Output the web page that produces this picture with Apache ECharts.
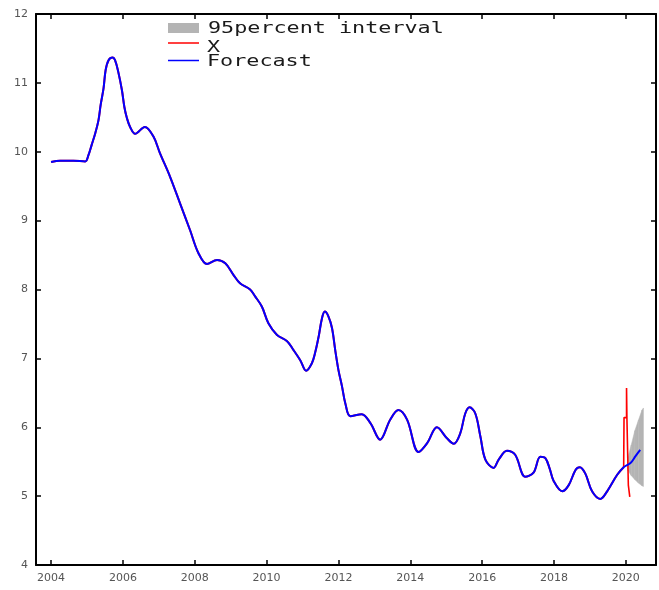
<!DOCTYPE html>
<html>
<head>
<meta charset="utf-8">
<script src="https://cdn.jsdelivr.net/npm/echarts@6/dist/echarts.min.js"></script>
<style>
html, body { margin: 0; padding: 0; background: #fff; }
#main { width: 659px; height: 590px; }
</style>
</head>
<body>
<div id="main"></div>
<script>
var years = [2004.00, 2004.25, 2004.62, 2004.95, 2005.04, 2005.13, 2005.23, 2005.32, 2005.38, 2005.46,
  2005.52, 2005.60, 2005.71, 2005.78, 2005.87, 2005.97, 2006.04, 2006.11, 2006.20, 2006.34,
  2006.61, 2006.85, 2007.03, 2007.31, 2007.59, 2007.87, 2008.10, 2008.34, 2008.62, 2008.85,
  2009.08, 2009.26, 2009.54, 2009.68, 2009.87, 2010.05, 2010.29, 2010.57, 2010.75, 2010.94,
  2011.10, 2011.26, 2011.35, 2011.45, 2011.54, 2011.62, 2011.72, 2011.82, 2011.91, 2012.00,
  2012.10, 2012.19, 2012.33, 2012.65, 2012.89, 2013.16, 2013.44, 2013.67, 2013.91, 2014.23,
  2014.47, 2014.74, 2015.02, 2015.21, 2015.39, 2015.53, 2015.65, 2015.81, 2015.95, 2016.09,
  2016.32, 2016.46, 2016.69, 2016.92, 2017.20, 2017.43, 2017.62, 2017.76, 2017.88, 2017.99,
  2018.23, 2018.41, 2018.60, 2018.72, 2018.87, 2019.06, 2019.29, 2019.48, 2019.76, 2019.94];
var xValues = [9.85, 9.87, 9.87, 9.86, 9.95, 10.10, 10.27, 10.46, 10.68, 10.92,
  11.19, 11.33, 11.37, 11.33, 11.16, 10.90, 10.65, 10.49, 10.36, 10.26,
  10.36, 10.22, 9.98, 9.64, 9.25, 8.86, 8.53, 8.37, 8.43, 8.38,
  8.21, 8.09, 8.00, 7.90, 7.75, 7.51, 7.34, 7.25, 7.12, 6.97,
  6.82, 6.93, 7.08, 7.32, 7.58, 7.68, 7.61, 7.44, 7.12, 6.83,
  6.59, 6.35, 6.16, 6.19, 6.06, 5.82, 6.11, 6.25, 6.11, 5.64,
  5.77, 6.00, 5.84, 5.76, 5.91, 6.20, 6.29, 6.20, 5.87, 5.53,
  5.41, 5.53, 5.66, 5.60, 5.28, 5.34, 5.57, 5.55, 5.40, 5.22,
  5.07, 5.16, 5.38, 5.42, 5.33, 5.07, 4.96, 5.07, 5.31, 5.42];

// the jump at the very end of X
var spikeYears = [2019.94, 2019.95, 2020.02, 2020.02, 2020.03, 2020.07, 2020.07, 2020.11, 2020.11];
var spikeValues = [5.42, 6.14, 6.14, 6.57, 6.14, 6.14, 5.16, 5.16, 4.99];

// out-of-sample forecast
var fcYears = [2020.13, 2020.27, 2020.40];
var fcValues = [5.48, 5.58, 5.67];

// 95 percent interval
var bandYears = [2020.05, 2020.15, 2020.25, 2020.35, 2020.45, 2020.49];
var bandLow = [5.38, 5.30, 5.24, 5.19, 5.15, 5.14];
var bandHigh = [5.55, 5.74, 5.95, 6.10, 6.25, 6.28];

var yearTicks = [2004, 2006, 2008, 2010, 2012, 2014, 2016, 2018, 2020];

function pairs(xs, ys) {
  return xs.map(function (x, i) { return [x, ys[i]]; });
}

var myChart = echarts.init(document.getElementById('main'));

var axisLine = { show: true, onZero: false, lineStyle: { color: '#000', width: 2 } };
var tick = { show: true, inside: true, length: 5, lineStyle: { color: '#000', width: 1.5 } };
var labelStyle = { color: '#555', fontSize: 11, fontFamily: 'DejaVu Sans' };
var legendFont = { fontSize: 16, fontFamily: 'DejaVu Sans Mono', fill: '#1a1a1a', verticalAlign: 'middle' };

// one quad per band segment, from point i to point i+1
function renderBand(params, api) {
  var i = params.dataIndexInside;
  if (i >= bandYears.length - 1) return null;
  var a = api.coord([api.value(0, i), api.value(1, i)]);
  var b = api.coord([api.value(0, i + 1), api.value(1, i + 1)]);
  var c = api.coord([api.value(0, i + 1), api.value(2, i + 1)]);
  var d = api.coord([api.value(0, i), api.value(2, i)]);
  return {
    type: 'polygon',
    shape: { points: [a, b, c, d] },
    style: { fill: '#b4b4b4', stroke: '#b4b4b4', lineWidth: 0.5 }
  };
}

myChart.setOption({
  animation: false,
  grid: { left: 36, right: 3, top: 14, bottom: 25 },
  xAxis: [
    {
      type: 'value', min: 2003.58, max: 2020.84, position: 'bottom',
      axisLine: axisLine,
      axisTick: Object.assign({ customValues: yearTicks }, tick),
      axisLabel: Object.assign({
        customValues: yearTicks, margin: 8,
        formatter: function (v) { return String(Math.round(v)); }
      }, labelStyle),
      splitLine: { show: false }
    },
    {
      type: 'value', min: 2003.58, max: 2020.84, position: 'top',
      axisLine: axisLine,
      axisTick: Object.assign({ customValues: yearTicks }, tick),
      axisLabel: { show: false },
      splitLine: { show: false }
    }
  ],
  yAxis: [
    {
      type: 'value', min: 4, max: 12, interval: 1, position: 'left',
      axisLine: axisLine, axisTick: tick,
      axisLabel: Object.assign({ margin: 8 }, labelStyle),
      splitLine: { show: false }
    },
    {
      type: 'value', min: 4, max: 12, interval: 1, position: 'right',
      axisLine: axisLine, axisTick: tick,
      axisLabel: { show: false },
      splitLine: { show: false }
    }
  ],
  graphic: [
    { type: 'rect', shape: { x: 168, y: 23, width: 31, height: 10 }, style: { fill: '#b4b4b4' } },
    { type: 'line', shape: { x1: 168, y1: 43, x2: 199, y2: 43 }, style: { stroke: '#ff0000', lineWidth: 1.5 } },
    { type: 'line', shape: { x1: 168, y1: 60.5, x2: 199, y2: 60.5 }, style: { stroke: '#0000ff', lineWidth: 1.5 } },
    { type: 'text', x: 208, y: 28.5, scaleX: 1.36, style: Object.assign({ text: '95percent interval' }, legendFont) },
    { type: 'text', x: 207, y: 47.5, scaleX: 1.36, style: Object.assign({ text: 'X' }, legendFont) },
    { type: 'text', x: 207, y: 61.5, scaleX: 1.36, style: Object.assign({ text: 'Forecast' }, legendFont) }
  ],
  series: [
    {
      name: '95percent interval', type: 'custom',
      renderItem: renderBand,
      encode: { x: 0, y: [1, 2] },
      data: bandYears.map(function (x, i) { return [x, bandLow[i], bandHigh[i]]; }),
      z: 1
    },
    {
      name: 'X', type: 'line', symbol: 'none', smooth: 0.35,
      data: pairs(years, xValues),
      lineStyle: { color: '#ff0000', width: 2 }, z: 2
    },
    {
      name: 'X', type: 'line', symbol: 'none',
      data: pairs(spikeYears, spikeValues),
      lineStyle: { color: '#ff0000', width: 1.6 }, z: 3
    },
    {
      name: 'Forecast', type: 'line', symbol: 'none', smooth: 0.35,
      data: pairs(years.concat(fcYears), xValues.concat(fcValues)),
      lineStyle: { color: '#0000ff', width: 2 }, z: 4
    }
  ]
});

window.addEventListener('resize', function () { myChart.resize(); });
</script>
</body>
</html>
